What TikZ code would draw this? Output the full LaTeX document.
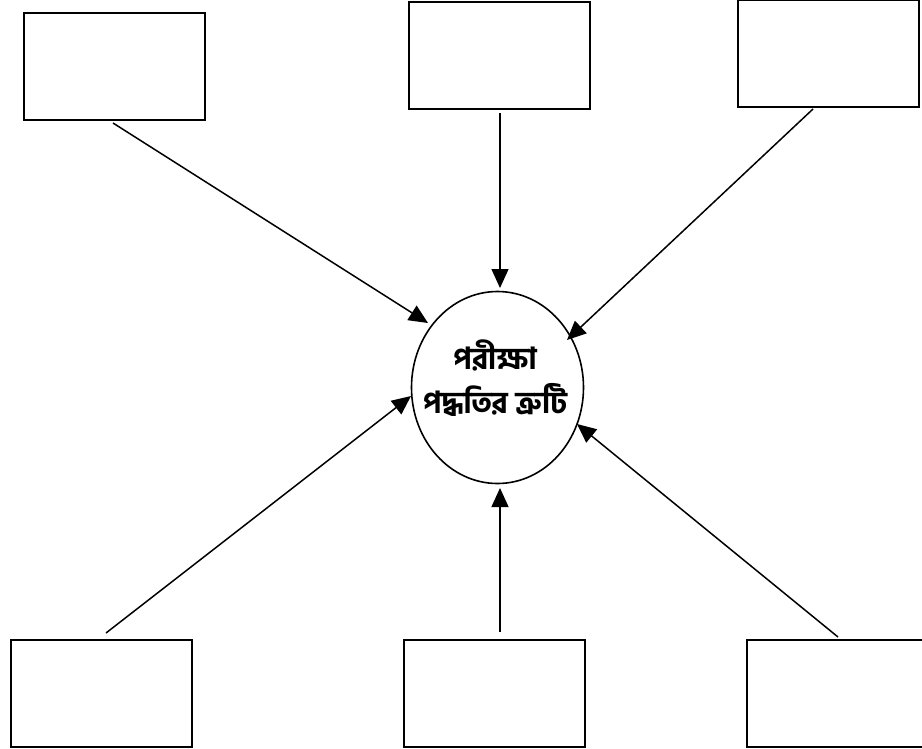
\documentclass[tikz,border=0pt]{standalone}
\usepackage{fontspec}
\newfontfamily\bn[Script=Bengali,BoldFont={* Bold}]{Hind Siliguri}
\usetikzlibrary{arrows.meta,shapes.geometric}
\tikzset{
  blank/.style={draw=black, line width=2pt, fill=white, rectangle,
    minimum width=181pt, minimum height=107pt, inner sep=0pt},
  hub/.style={draw=black, line width=1.6pt, ellipse, minimum width=172pt,
    minimum height=192pt, inner sep=0pt},
  feed/.style={draw=black, line width=1.5pt,
    -{Triangle[length=19pt,width=17pt]}},
  caption/.style={font=\bn\bfseries\fontsize{30pt}{44pt}\selectfont,
    align=center, inner sep=0pt}
}
\begin{document}
\begin{tikzpicture}[x=1pt,y=-1pt]
  \useasboundingbox (0,0) rectangle (922,748);

  % outer boxes
  \node[blank] (tl) at (114.5,66.5) {};
  \node[blank] (tm) at (499,55) {};
  \node[blank] (tr) at (828.5,53) {};
  \node[blank] (bl) at (101,693) {};
  \node[blank] (bm) at (494,693) {};
  \node[blank] (br) at (837.5,693) {};

  % central topic
  \node[hub] (ell) at (497.5,387.5) {};
  \node[caption] (lbl) at (495,378) {পরীক্ষা\\পদ্ধতির ত্রুটি};

  % connector ends
  \coordinate (tlA) at (113,123);
  \coordinate (tlB) at (428,323);
  \coordinate (tmA) at (500,113);
  \coordinate (tmB) at (500,288);
  \coordinate (trA) at (813,109);
  \coordinate (trB) at (567,340);
  \coordinate (blA) at (106,633);
  \coordinate (blB) at (411,396);
  \coordinate (bmA) at (500,632);
  \coordinate (bmB) at (500,488);
  \coordinate (brA) at (838,637);
  \coordinate (brB) at (577,424);

  \draw[feed] (tlA) -- (tlB);
  \draw[feed] (tmA) -- (tmB);
  \draw[feed] (trA) -- (trB);
  \draw[feed] (blA) -- (blB);
  \draw[feed] (bmA) -- (bmB);
  \draw[feed] (brA) -- (brB);
\end{tikzpicture}
\end{document}
